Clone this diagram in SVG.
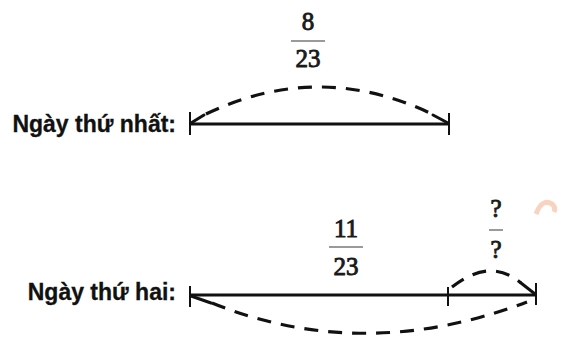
<svg xmlns="http://www.w3.org/2000/svg" width="569" height="341" viewBox="0 0 569 341">
<style>
.lbl{font-family:"Liberation Sans",Arial,sans-serif;font-weight:bold;font-size:23px;fill:#111;stroke:#111;stroke-width:0.3}
.num{font-family:"Liberation Serif","Times New Roman",serif;font-size:25px;fill:#1a1a1a;stroke:#1a1a1a;stroke-width:0.9;text-anchor:middle}
.bar{stroke:#9a9a9a;stroke-width:2}
.seg{stroke:#111;stroke-width:3;fill:none}
.tick{stroke:#111;stroke-width:2;fill:none}
.dash{stroke:#111;stroke-width:3.2;fill:none;stroke-dasharray:14 10}
.leg{stroke:#111;stroke-width:3;fill:none;stroke-linecap:round}
</style>
<rect width="569" height="341" fill="#fff"/>
<path d="M536 214 q6 -16 16 -10 q4 3 2 8" stroke="#f6c8b0" stroke-width="5" fill="none" opacity="0.8"/>
<g id="day1">
<text class="lbl" x="176" y="132" text-anchor="end">Ngày thứ nhất:</text>
<line class="seg" x1="190" y1="124" x2="449" y2="124"/>
<line class="tick" x1="190" y1="112" x2="190" y2="135"/>
<line class="tick" x1="449" y1="113" x2="449" y2="135"/>
</g>
<g id="day2">
<text class="lbl" x="176" y="300" text-anchor="end">Ngày thứ hai:</text>
<line class="seg" x1="190" y1="295" x2="536" y2="295"/>
<line class="tick" x1="190" y1="286" x2="190" y2="307"/>
<line class="tick" x1="448" y1="287" x2="448" y2="306"/>
<line class="tick" x1="536" y1="283" x2="536" y2="305"/>
</g>
<g id="frac1">
<text class="num" x="308" y="30">8</text>
<line class="bar" x1="291" y1="41" x2="325" y2="41"/>
<text class="num" x="308" y="67">23</text>
</g>
<g id="frac2">
<text class="num" x="346" y="237">11</text>
<line class="bar" x1="329" y1="247" x2="363" y2="247"/>
<text class="num" x="346" y="275">23</text>
</g>
<g id="frac3">
<text class="num" x="496" y="217">?</text>
<line class="bar" x1="489" y1="230" x2="503" y2="230"/>
<text class="num" x="496" y="258">?</text>
</g>
<g id="connectors">
<path class="dash" d="M206 114 Q319 60 432 114"/>
<line class="leg" x1="191" y1="123" x2="204" y2="115"/>
<line class="leg" x1="448" y1="123" x2="433" y2="115"/>
<path class="dash" d="M212 303 Q363 364 527 302"/>
<line class="leg" x1="191" y1="296" x2="211" y2="303"/>
<path class="dash" d="M452 287 Q490 257 521 283" stroke-dasharray="16 12"/>
<line class="leg" x1="535" y1="294" x2="521" y2="283"/>
</g>
</svg>
